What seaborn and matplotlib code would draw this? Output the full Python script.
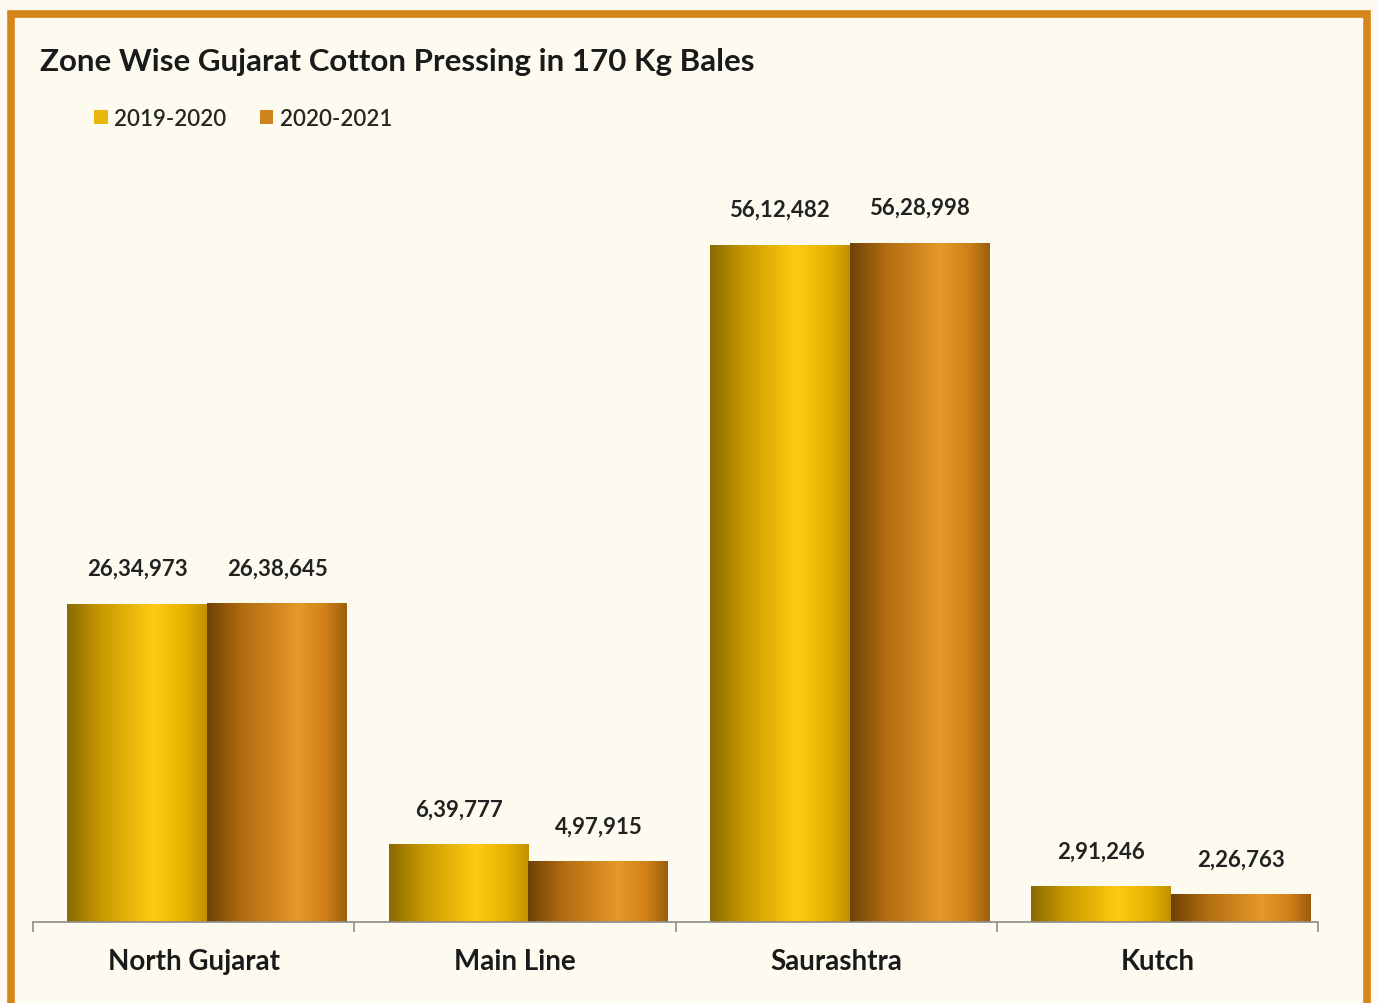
import numpy as np
import pandas as pd
import matplotlib.pyplot as plt
import seaborn as sns
from matplotlib.colors import LinearSegmentedColormap
from matplotlib.patches import Rectangle, Patch

# Chart data
zones = ['North Gujarat', 'Main Line', 'Saurashtra', 'Kutch']
seasons = ['2019-2020', '2020-2021']
bales_2019_20 = [2634973, 639777, 5612482, 291246]
bales_2020_21 = [2638645, 497915, 5628998, 226763]

df = pd.DataFrame({
    'zone': zones * 2,
    'season': [seasons[0]] * 4 + [seasons[1]] * 4,
    'bales': bales_2019_20 + bales_2020_21,
})

bg = '#fdfbf0'
frame = '#d4851c'
legend_colors = ['#e8b70a', '#cf8420']

# shading across each bar (left dark -> bright -> darker right)
cmaps = [
    LinearSegmentedColormap.from_list('y', [(0, '#8a6a00'), (0.25, '#c99a00'), (0.62, '#ffcb12'),
                                            (0.85, '#e6b000'), (1, '#c09000')]),
    LinearSegmentedColormap.from_list('o', [(0, '#6e4206'), (0.25, '#b06c10'), (0.65, '#e8982a'),
                                            (0.85, '#cf8018'), (1, '#9c5e0c')]),
]


def indian_fmt(v):
    s = str(int(round(v)))
    if len(s) <= 3:
        return s
    head, tail = s[:-3], s[-3:]
    parts = []
    while len(head) > 2:
        parts.insert(0, head[-2:])
        head = head[:-2]
    if head:
        parts.insert(0, head)
    return ','.join(parts) + ',' + tail


sns.set_style('white')
plt.rcParams['font.family'] = ['Lato', 'DejaVu Sans']

fig = plt.figure(figsize=(13.78, 10.04), dpi=100)
fig.patch.set_facecolor(bg)
ax = fig.add_axes([0.024, 0.0807, 0.9326, 0.74])
ax.set_facecolor(bg)

sns.barplot(data=df, x='zone', y='bales', hue='season', palette=legend_colors,
            width=0.87, gap=0, saturation=1, ax=ax, legend=False)

grad = np.linspace(0, 1, 256).reshape(1, -1)
for cont, cmap in zip(ax.containers, cmaps):
    for bar in cont:
        # the original groups sit a little right of the category centre
        bar.set_x(bar.get_x() + 0.042)
        x0, w, h = bar.get_x(), bar.get_width(), bar.get_height()
        ax.imshow(grad, extent=[x0, x0 + w, 0, h], aspect='auto', cmap=cmap,
                  clip_path=bar, zorder=2, interpolation='bicubic')
    ax.bar_label(cont, labels=[indian_fmt(b.get_height()) for b in cont], padding=18,
                 fontsize=16, fontweight='bold', color='#222222')

ax.set_xlim(-0.5, 3.5)
ax.set_ylim(0, 6160000)
ax.set_xlabel('')
ax.set_ylabel('')
ax.set_yticks([])
for s in ['top', 'right', 'left']:
    ax.spines[s].set_visible(False)
ax.spines['bottom'].set_color('#8c8c8c')
ax.spines['bottom'].set_linewidth(1.2)
ax.set_xticks(range(4))
ax.set_xticklabels(zones, fontsize=20, fontweight='bold', color='#1a1a1a')
ax.tick_params(axis='x', which='major', length=0, pad=19)
ax.set_xticks([-0.5, 0.5, 1.5, 2.5, 3.5], minor=True)
ax.tick_params(axis='x', which='minor', bottom=True, length=7, width=1.2,
               color='#8c8c8c', direction='out')

fig.text(0.029, 0.938, 'Zone Wise Gujarat Cotton Pressing in 170 Kg Bales',
         fontsize=22.5, fontweight='bold', color='#1a1a1a', va='center')

handles = [Patch(facecolor=c, edgecolor='none') for c in legend_colors]
fig.legend(handles, seasons, loc='center left', bbox_to_anchor=(0.054, 0.881), ncol=2,
           frameon=False, handlelength=0.6, handleheight=0.6,
           handletextpad=0.3, columnspacing=1.5, prop={'weight': 'semibold', 'size': 16})

fig.patches.append(Rectangle((0.008, -0.05), 0.984, 1.035, transform=fig.transFigure,
                             fill=False, edgecolor=frame, linewidth=5.5))

fig.savefig('out.png', dpi=100, facecolor=bg)
